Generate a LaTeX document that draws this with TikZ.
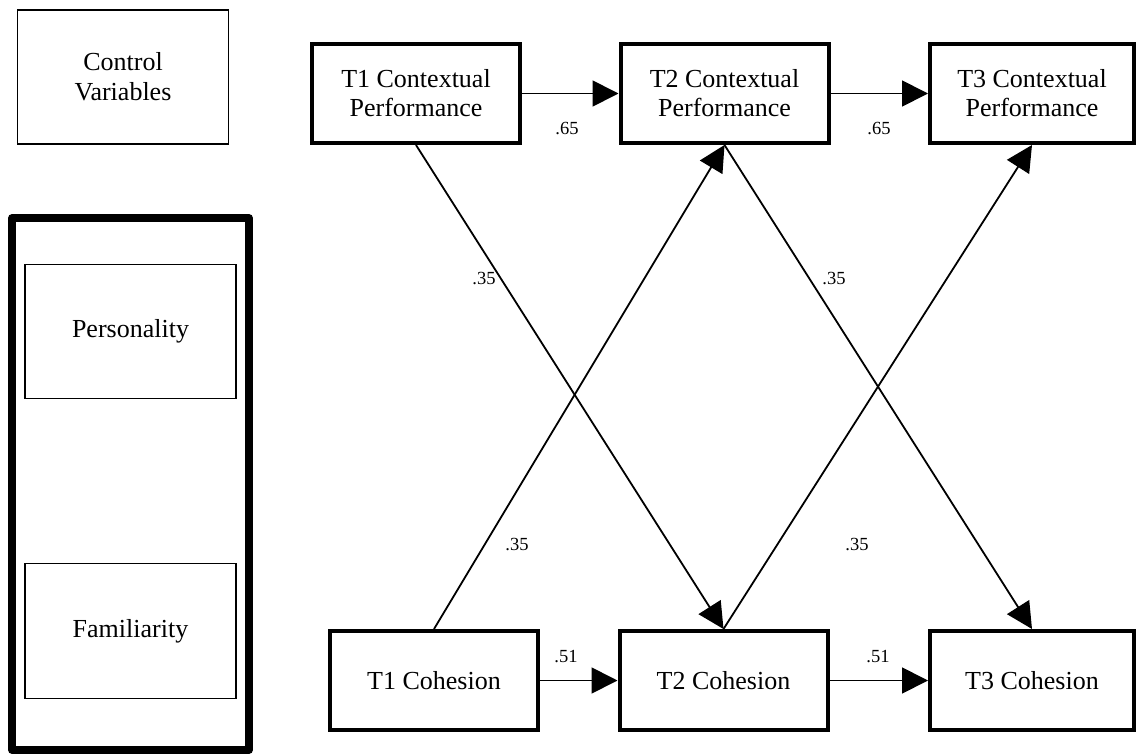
\documentclass[tikz,border=0pt]{standalone}
\usepackage{fontspec}
\setmainfont{Liberation Serif}
\usetikzlibrary{arrows.meta}
\begin{document}
\begin{tikzpicture}[x=1pt,y=-1pt,
  mainbox/.style={draw, line width=4pt, minimum width=208pt, minimum height=99pt,
    inner sep=0pt, align=center, font=\fontsize{26}{29}\selectfont},
  thinbox/.style={draw, line width=1.3pt, minimum width=211pt, minimum height=134pt,
    inner sep=0pt, align=center, font=\fontsize{26}{30}\selectfont},
  groupbox/.style={draw, line width=7.5pt, line join=round, minimum width=237pt,
    minimum height=532pt, inner sep=0pt},
  conn/.style={line width=1.8pt, -{Triangle[length=26pt,width=26pt]}},
  wlabel/.style={font=\fontsize{18.5}{20}\selectfont, inner sep=0pt}]
\fill[white] (0,0) rectangle (1136,755);
\useasboundingbox (0,0) rectangle (1136,755);

% left column
\node[thinbox] (ctrl) at (123,77) {Control\\Variables};
\node[groupbox] (grp) at (130.5,484) {};
\node[thinbox, minimum height=134.5pt] (pers) at (130.5,331.5) {Personality};
\node[thinbox, minimum height=135pt] (fam) at (130.5,631) {Familiarity};

% top row
\node[mainbox] (cp1) at (416,93.5) {T1 Contextual\\Performance};
\node[mainbox] (cp2) at (724.5,93.5) {T2 Contextual\\Performance};
\node[mainbox, minimum width=204pt] (cp3) at (1032,93.5) {T3 Contextual\\Performance};

% bottom row
\node[mainbox] (co1) at (434,680.5) {T1 Cohesion};
\node[mainbox] (co2) at (723.5,680.5) {T2 Cohesion};
\node[mainbox, minimum width=204pt] (co3) at (1032,680.5) {T3 Cohesion};

% horizontal paths
\draw[conn] (cp1.east) -- (cp2.west);
\draw[conn] (cp2.east) -- (cp3.west);
\draw[conn] (co1.east) -- (co2.west);
\draw[conn] (co2.east) -- (co3.west);

% cross-lagged paths
\draw[conn] (cp1.south) -- (co2.north);
\draw[conn] (cp2.south) -- (co3.north);
\draw[conn] (co1.north) -- (cp2.south);
\draw[conn] (co2.north) -- (cp3.south);

% labels
\node[wlabel] (l1) at (567,129) {.65};
\node[wlabel] (l2) at (879,129) {.65};
\node[wlabel] (l3) at (566,657) {.51};
\node[wlabel] (l4) at (878,657) {.51};
\node[wlabel] (l5) at (484,279) {.35};
\node[wlabel] (l6) at (834,279) {.35};
\node[wlabel] (l7) at (517,545) {.35};
\node[wlabel] (l8) at (857,545) {.35};
\end{tikzpicture}
\end{document}
